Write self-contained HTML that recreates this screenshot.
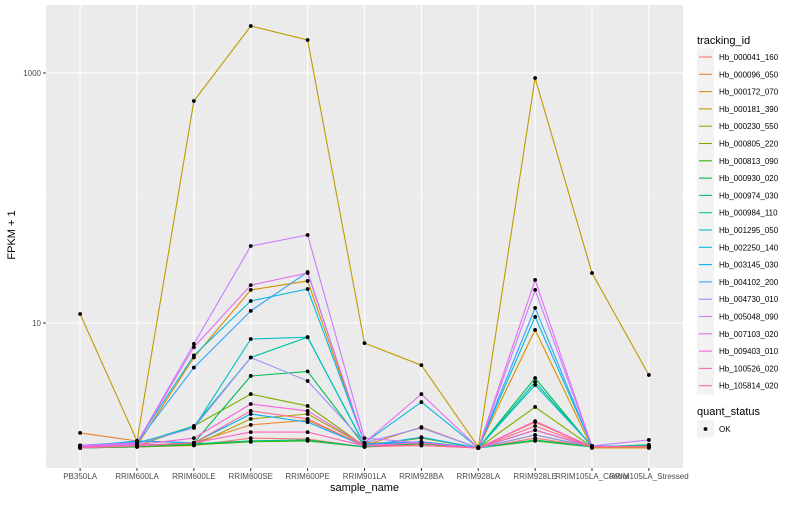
<!DOCTYPE html>
<html><head><meta charset="utf-8"><style>
body{margin:0;background:#fff;font-family:"Liberation Sans",sans-serif;}
svg text{font-family:"Liberation Sans",sans-serif;}
</style></head><body>
<svg id="chart" width="800" height="500" xmlns="http://www.w3.org/2000/svg"></svg>
<script>
const categories=["PB350LA","RRIM600LA","RRIM600LE","RRIM600SE","RRIM600PE","RRIM901LA","RRIM928BA","RRIM928LA","RRIM928LE","RRIM105LA_Control","RRIM105LA_Stressed"];
const seriesNames=["Hb_000041_160","Hb_000096_050","Hb_000172_070","Hb_000181_390","Hb_000230_550","Hb_000805_220","Hb_000813_090","Hb_000930_020","Hb_000974_030","Hb_000984_110","Hb_001295_050","Hb_002250_140","Hb_003145_030","Hb_004102_200","Hb_004730_010","Hb_005048_090","Hb_007103_020","Hb_009403_010","Hb_100526_020","Hb_105814_020"];
const seriesColors=["#F8766D","#EA8331","#D89000","#C09B00","#A3A500","#7CAE00","#39B600","#00BB4E","#00BF7D","#00C1A3","#00BFC4","#00BAE0","#00B0F6","#35A2FF","#9590FF","#C77CFF","#E76BF3","#FA62DB","#FF62BC","#FF6C91"];
const s00=[1.0,1.02,1.05,1.2,1.18,1.02,1.05,1.0,1.2,1.02,1.02];
const s01=[1.32,1.14,1.1,1.53,1.67,1.05,1.47,1.0,1.61,1.02,1.02];
const s02=[1.02,1.05,5.3,18.4,21.7,1.1,1.1,1.0,8.8,1.0,1.0];
const s03=[11.8,1.14,597,2377,1837,6.9,4.6,1.02,912,25.1,3.84];
const s04=[1.02,1.04,1.05,1.71,1.87,1.05,1.1,1.0,1.27,1.02,1.02];
const s05=[1.02,1.04,1.5,2.7,2.17,1.04,1.2,1.0,2.13,1.02,1.02];
const s06=[1.0,1.02,1.06,1.12,1.14,1.02,1.08,1.0,1.14,1.02,1.03];
const s07=[1.02,1.05,1.1,3.77,4.1,1.04,1.12,1.0,3.63,1.02,1.06];
const s08=[1.0,1.03,1.08,1.14,1.16,1.02,1.1,1.0,1.16,1.02,1.02];
const s09=[1.03,1.08,1.5,5.3,7.7,1.05,1.12,1.0,3.37,1.03,1.04];
const s10=[1.04,1.1,1.45,7.45,7.7,1.06,1.1,1.0,3.19,1.04,1.03];
const s11=[1.05,1.12,5.5,15.0,18.7,1.1,2.33,1.0,11.2,1.04,1.03];
const s12=[1.02,1.14,1.1,1.87,1.61,1.04,1.22,1.0,1.39,1.02,1.02];
const s13=[1.05,1.1,4.4,12.5,25.6,1.08,1.12,1.0,13.2,1.03,1.02];
const s14=[1.04,1.08,1.45,5.3,3.44,1.1,1.45,1.0,1.27,1.03,1.02];
const s15=[1.05,1.1,6.8,41.3,50.6,1.2,1.1,1.0,18.4,1.04,1.16];
const s16=[1.04,1.1,6.4,20.1,25.1,1.1,2.7,1.0,22.1,1.03,1.03];
const s17=[1.02,1.06,1.2,2.25,1.98,1.05,1.1,1.0,1.64,1.02,1.02];
const s18=[1.0,1.05,1.1,1.34,1.34,1.04,1.05,1.0,1.39,1.02,1.02];
const s19=[1.0,1.04,1.1,1.98,1.71,1.04,1.05,1.0,1.5,1.02,1.02];
const seriesValues=[s00,s01,s02,s03,s04,s05,s06,s07,s08,s09,s10,s11,s12,s13,s14,s15,s16,s17,s18,s19];
const yTicks=[10,1000];
const yTickLabels=["10","1000"];
const yMinor=[1,100];

const NS="http://www.w3.org/2000/svg";
const svg=document.getElementById('chart');
const P={l:46,r:683,t:5,b:468};
const step=(P.r-P.l)/(categories.length-1+1.2);
function xPos(i){return P.l+step*(0.6+i);}
function yPos(v){return 323-(Math.log10(v)-1)*125;}
function mk(tag,attrs,parent){const e=document.createElementNS(NS,tag);for(const k in attrs)e.setAttribute(k,attrs[k]);(parent||svg).appendChild(e);return e;}

const bg=mk('rect',{x:P.l,y:P.t,width:P.r-P.l,height:P.b-P.t,fill:'#EBEBEB'});


yMinor.forEach(v=>{const l=mk('line',{x1:P.l,x2:P.r,y1:yPos(v),y2:yPos(v),stroke:'#F5F5F5','stroke-width':0.6});

});
yTicks.forEach((v,i)=>{const l=mk('line',{x1:P.l,x2:P.r,y1:yPos(v),y2:yPos(v),stroke:'#fff','stroke-width':1.1});


const tk=mk('line',{x1:P.l-3,x2:P.l,y1:yPos(v),y2:yPos(v),stroke:'#333','stroke-width':1});


const t=mk('text',{x:P.l-5,y:yPos(v)+3,'text-anchor':'end','font-size':8,fill:'#4D4D4D'});t.textContent=yTickLabels[i];

});
categories.forEach((c,i)=>{const x=xPos(i);const l=mk('line',{x1:x,x2:x,y1:P.t,y2:P.b,stroke:'#fff','stroke-width':1.1});


const tk=mk('line',{x1:x,x2:x,y1:P.b,y2:P.b+3,stroke:'#333','stroke-width':1});


const t=mk('text',{x:x,y:P.b+11,'text-anchor':'middle','font-size':8,fill:'#4D4D4D'});t.textContent=c;

});
const xt=mk('text',{x:(P.l+P.r)/2,y:491,'text-anchor':'middle','font-size':11,fill:'#000'});xt.textContent='sample_name';


const yt=mk('text',{x:0,y:0,'text-anchor':'middle','font-size':11,fill:'#000',transform:'translate(15,235) rotate(-90)'});yt.textContent='FPKM + 1';



seriesValues.forEach((vals,s)=>{
 const pts=vals.map((v,i)=>xPos(i).toFixed(1)+','+yPos(v).toFixed(1)).join(' ');
 const pl=mk('polyline',{points:pts,fill:'none',stroke:seriesColors[s],'stroke-width':1.1});
 
 
});
seriesValues.forEach((vals,s)=>{vals.forEach((v,i)=>{
 const c=mk('circle',{cx:xPos(i),cy:yPos(v),r:1.9,fill:'#000'});
 
 
});});

const lg=mk('g',{});


const lt=mk('text',{x:697,y:44,'font-size':11,fill:'#000'},lg);lt.textContent='tracking_id';


seriesNames.forEach((n,s)=>{
 const y=57+s*17.3;
 const g=mk('g',{},lg);
 
 
 mk('rect',{x:697,y:y-8.5,width:17,height:17,fill:'#F2F2F2'},g);
 mk('line',{x1:699,x2:712,y1:y,y2:y,stroke:seriesColors[s],'stroke-width':1.1},g);
 const t=mk('text',{x:719,y:y+3,'font-size':8,fill:'#000'},g);t.textContent=n;
});
const qt=mk('text',{x:697,y:415,'font-size':11,fill:'#000'},lg);qt.textContent='quant_status';


const qg=mk('g',{},lg);


mk('rect',{x:697,y:420.5,width:17,height:17,fill:'#F2F2F2'},qg);
mk('circle',{cx:705.5,cy:429,r:1.9,fill:'#000'},qg);
const okt=mk('text',{x:719,y:432,'font-size':8,fill:'#000'},qg);okt.textContent='OK';
</script>
</body></html>
